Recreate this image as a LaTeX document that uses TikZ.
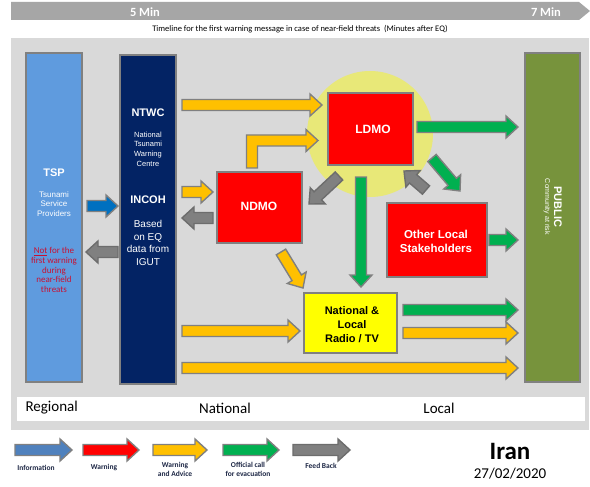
\documentclass[tikz,border=0pt]{standalone}
\usepackage{fontspec}
\setmainfont{Carlito}
\newfontfamily\arial{Liberation Sans}
\usetikzlibrary{calc}
\definecolor{bggray}{RGB}{217,217,217}
\definecolor{bargray}{RGB}{166,166,166}
\definecolor{edgegray}{RGB}{128,128,128}
\definecolor{tspblue}{RGB}{95,155,222}
\definecolor{navy}{RGB}{3,35,100}
\definecolor{olive}{RGB}{119,147,60}
\definecolor{boxred}{RGB}{255,0,0}
\definecolor{boxyellow}{RGB}{255,255,0}
\definecolor{halo}{RGB}{232,232,120}
\definecolor{arrYellow}{RGB}{255,192,0}
\definecolor{arrGreen}{RGB}{0,176,80}
\definecolor{arrGray}{RGB}{128,128,128}
\definecolor{arrBlue}{RGB}{0,112,192}
\definecolor{legBlue}{RGB}{79,129,189}
\definecolor{crimson}{RGB}{200,16,50}
\definecolor{legtext}{RGB}{30,40,70}
\newcommand\blockarrow[3]{%
  \coordinate (bah) at ($(#3)!12pt!(#2)$);
  \filldraw[arrowbase,#1] ($(#2)!5.5pt!90:(#3)$) -- ($(bah)!5.5pt!-90:(#2)$)
    -- ($(bah)!11pt!-90:(#2)$) -- (#3) -- ($(bah)!11pt!90:(#2)$)
    -- ($(bah)!5.5pt!90:(#2)$) -- ($(#2)!5.5pt!-90:(#3)$) -- cycle;
}
\tikzset{
  arrowbase/.style={draw=edgegray, line width=1.4pt, line join=miter},
  yarrow/.style={fill=arrYellow},
  garrow/.style={fill=arrGreen},
  farrow/.style={fill=arrGray, draw=arrGray!85!black},
  barrow/.style={fill=arrBlue},
  larrow/.style={fill=legBlue},
  rarrow/.style={fill=boxred},
  box/.style={draw=edgegray, line width=1.3pt, inner sep=0pt},
  col/.style={box, minimum width=56pt, minimum height=329pt},
  redbox/.style={box, fill=boxred},
  wbold/.style={font=\arial\bfseries\fontsize{11}{13}\selectfont, text=white, align=center},
  wsmall/.style={font=\arial\fontsize{7.5}{9.7}\selectfont, text=white, align=center},
  legl/.style={font=\bfseries\fontsize{7.5}{9}\selectfont, text=legtext, align=center},
  level/.style={font=\fontsize{15}{17}\selectfont, text=black},
}
\begin{document}
\begin{tikzpicture}[x=1pt, y=-1pt]
\useasboundingbox (0,0) rectangle (590,487);
\fill[white] (0,0) rectangle (590,487);
% timeline bar
\fill[bargray] (11,2) -- (579,2) -- (590,11) -- (579,20) -- (11,20) -- cycle;
\node[font=\bfseries\fontsize{12.5}{14}\selectfont, text=white] (t5) at (145,12) {5 Min};
\node[font=\bfseries\fontsize{12.5}{14}\selectfont, text=white] (t7) at (546,12) {7 Min};
\node[font=\fontsize{8.5}{10}\selectfont] (ttl) at (300,29) {Timeline for the first warning message in case of near-field threats\ \ (Minutes after EQ)};
% background
\fill[bggray] (11,38) rectangle (589,430);
\fill[white] (17,397) rectangle (585,421);
\node[level, anchor=west] (reg) at (22,408) {Regional};
\node[level] (nat) at (225,408) {National};
\node[level] (loc) at (439,408) {Local};
% halo
\fill[halo] (370,134) circle (63);
% columns
\node[col, fill=tspblue] (tsp) at (54,217.5) {};
\node[col, fill=navy] (ntwc) at (148,219.5) {};
\node[col, fill=olive, minimum width=55pt] (public) at (552.5,217.5) {};
% boxes
\node[redbox, minimum width=85pt, minimum height=72pt] (ldmo) at (370.5,129) {};
\node[redbox, minimum width=85pt, minimum height=71pt] (ndmo) at (259.5,207.5) {};
\node[redbox, minimum width=100pt, minimum height=74pt] (other) at (437,240) {};
\node[box, fill=boxyellow, minimum width=93pt, minimum height=60pt] (radio) at (350.5,323) {};
% texts
\node[wbold] (tspT) at (54,173) {TSP};
\node[wsmall, font=\arial\fontsize{8}{9.7}\selectfont] (tspS) at (54,204) {Tsunami\\Service\\Providers};
\node[font=\fontsize{9}{9.7}\selectfont, text=crimson, align=center] (tspN) at (54,270) {\underline{Not} for the\\first warning\\during\\near-field\\threats};
\node[wbold] (ntwcT) at (148,113) {NTWC};
\node[wsmall] (ntwcS) at (148,149) {National\\Tsunami\\Warning\\Centre};
\node[wbold] (incohT) at (148,200) {INCOH};
\node[wsmall, font=\arial\fontsize{10}{12.6}\selectfont] (incohS) at (148,243) {Based\\on EQ\\data from\\IGUT};
\node[wbold, font=\arial\bfseries\fontsize{12}{14}\selectfont] (ldmoT) at (373,129) {LDMO};
\node[wbold, font=\arial\bfseries\fontsize{12}{14}\selectfont] (ndmoT) at (259,206) {NDMO};
\node[wbold, font=\arial\bfseries\fontsize{11.5}{14}\selectfont] (otherT) at (436,241) {Other Local\\Stakeholders};
\node[wbold, font=\arial\bfseries\fontsize{11}{14}\selectfont, text=black] (radioT) at (352,325) {National \&\\Local\\Radio / TV};
\node[wbold, rotate=-90] (pubT) at (558,207) {PUBLIC};
\node[wsmall, font=\arial\fontsize{7}{8}\selectfont, rotate=-90] (pubS) at (547,207) {Community at risk};
% arrow end coordinates
\coordinate (a1s) at (182,105);  \coordinate (a1e) at (322,105);
\coordinate (a2s) at (182,192);  \coordinate (a2e) at (213,192);
\coordinate (a3s) at (213,218);  \coordinate (a3e) at (182,218);
\coordinate (a4s) at (87,206);   \coordinate (a4e) at (118,206);
\coordinate (a5s) at (118,252);  \coordinate (a5e) at (86,252);
\coordinate (a6s) at (339,176);  \coordinate (a6e) at (309,204);
\coordinate (a7s) at (281,252);  \coordinate (a7e) at (303,288);
\coordinate (a8s) at (361,177);  \coordinate (a8e) at (361,287);
\coordinate (a9s) at (417,127);  \coordinate (a9e) at (518,127);
\coordinate (a10s) at (432,158); \coordinate (a10e) at (460,191);
\coordinate (a11s) at (426,190); \coordinate (a11e) at (404,171);
\coordinate (a12s) at (489,240); \coordinate (a12e) at (518,240);
\coordinate (a13s) at (182,331); \coordinate (a13e) at (300,331);
\coordinate (a14s) at (403,310); \coordinate (a14e) at (518,310);
\coordinate (a15s) at (403,333); \coordinate (a15e) at (518,333);
\coordinate (a16s) at (182,368); \coordinate (a16e) at (518,368);
% arrows
\blockarrow{yarrow}{a1s}{a1e}
\blockarrow{yarrow}{a2s}{a2e}
\blockarrow{farrow}{a3s}{a3e}
\blockarrow{barrow}{a4s}{a4e}
\blockarrow{farrow}{a5s}{a5e}
\blockarrow{farrow}{a6s}{a6e}
\blockarrow{yarrow}{a7s}{a7e}
\blockarrow{garrow}{a8s}{a8e}
\blockarrow{garrow}{a9s}{a9e}
\blockarrow{garrow}{a10s}{a10e}
\blockarrow{farrow}{a11s}{a11e}
\blockarrow{garrow}{a12s}{a12e}
\blockarrow{yarrow}{a13s}{a13e}
\blockarrow{garrow}{a14s}{a14e}
\blockarrow{yarrow}{a15s}{a15e}
\blockarrow{yarrow}{a16s}{a16e}
% L-shaped arrow NDMO -> LDMO
\coordinate (lA) at (252,168); \coordinate (lB) at (252,140.5); \coordinate (lC) at (318,140.5);
\filldraw[arrowbase, yarrow] ($(lA)+(-5.5,0)$) -- ($(lB)+(-5.5,-5.5)$) -- ($(lC)+(-12,-5.5)$)
  -- ($(lC)+(-12,-11)$) -- (lC) -- ($(lC)+(-12,11)$) -- ($(lC)+(-12,5.5)$)
  -- ($(lB)+(5.5,5.5)$) -- ($(lA)+(5.5,0)$) -- cycle;
% legend
\coordinate (g1s) at (15,450); \coordinate (g1e) at (72,450);
\coordinate (g2s) at (83,450); \coordinate (g2e) at (139,450);
\coordinate (g3s) at (153,450); \coordinate (g3e) at (207,450);
\coordinate (g4s) at (223,450); \coordinate (g4e) at (279,450);
\coordinate (g5s) at (293,450); \coordinate (g5e) at (350,450);
\blockarrow{larrow}{g1s}{g1e}
\blockarrow{rarrow}{g2s}{g2e}
\blockarrow{yarrow}{g3s}{g3e}
\blockarrow{garrow}{g4s}{g4e}
\blockarrow{farrow}{g5s}{g5e}
\node[legl] (l1) at (36,468) {Information};
\node[legl] (l2) at (104,468) {Warning};
\node[legl] (l3) at (175,469) {Warning\\and Advice};
\node[legl] (l4) at (248,469) {Official call\\for evacuation};
\node[legl] (l5) at (321,466) {Feed Back};
\node[font=\bfseries\fontsize{25}{28}\selectfont] (iran) at (510,451) {Iran};
\node[font=\fontsize{15}{17}\selectfont] (date) at (510,474) {27/02/2020};
\end{tikzpicture}
\end{document}
